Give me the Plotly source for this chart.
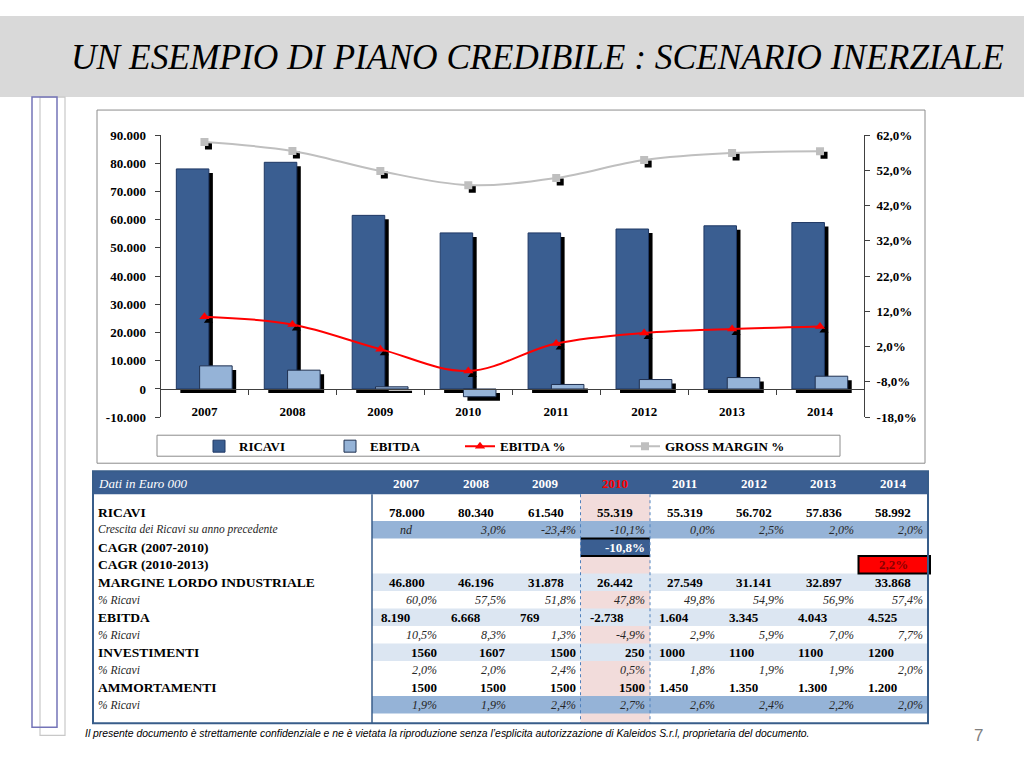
import plotly.graph_objects as go

W, H = 1024, 768

# ---------------- chart data ----------------
years = ["2007", "2008", "2009", "2010", "2011", "2012", "2013", "2014"]
ricavi = [78000, 80340, 61540, 55319, 55319, 56702, 57836, 58992]
ebitda = [8190, 6668, 769, -2738, 1604, 3345, 4043, 4525]
ebitda_pct = [10.5, 8.3, 1.3, -4.9, 2.9, 5.9, 7.0, 7.7]
gross_margin_pct = [60.0, 57.5, 51.8, 47.8, 49.8, 54.9, 56.9, 57.4]

left_tickvals = [-10000, 0, 10000, 20000, 30000, 40000, 50000, 60000, 70000, 80000, 90000]
left_ticktext = ["-10.000", "0", "10.000", "20.000", "30.000", "40.000",
                 "50.000", "60.000", "70.000", "80.000", "90.000"]
right_tickvals = [-18, -8, 2, 12, 22, 32, 42, 52, 62]
right_ticktext = ["-18,0%", "-8,0%", "2,0%", "12,0%", "22,0%", "32,0%", "42,0%", "52,0%", "62,0%"]

# ---------------- table data ----------------
table_corner = "Dati in Euro 000"
row_labels = ["RICAVI", "Crescita dei Ricavi su anno precedente", "CAGR (2007-2010)",
              "CAGR (2010-2013)", "MARGINE LORDO INDUSTRIALE", "% Ricavi", "EBITDA",
              "% Ricavi", "INVESTIMENTI", "% Ricavi", "AMMORTAMENTI", "% Ricavi"]
row_ricavi = ["78.000", "80.340", "61.540", "55.319", "55.319", "56.702", "57.836", "58.992"]
row_crescita = ["nd", "3,0%", "-23,4%", "-10,1%", "0,0%", "2,5%", "2,0%", "2,0%"]
row_cagr_0710 = ["", "", "", "-10,8%", "", "", "", ""]
row_cagr_1013 = ["", "", "", "", "", "", "", "2,2%"]
row_margine = ["46.800", "46.196", "31.878", "26.442", "27.549", "31.141", "32.897", "33.868"]
row_margine_pct = ["60,0%", "57,5%", "51,8%", "47,8%", "49,8%", "54,9%", "56,9%", "57,4%"]
row_ebitda = ["8.190", "6.668", "769", "-2.738", "1.604", "3.345", "4.043", "4.525"]
row_ebitda_pct = ["10,5%", "8,3%", "1,3%", "-4,9%", "2,9%", "5,9%", "7,0%", "7,7%"]
row_invest = ["1560", "1607", "1500", "250", "1000", "1100", "1100", "1200"]
row_invest_pct = ["2,0%", "2,0%", "2,4%", "0,5%", "1,8%", "1,9%", "1,9%", "2,0%"]
row_ammort = ["1500", "1500", "1500", "1500", "1.450", "1.350", "1.300", "1.200"]
row_ammort_pct = ["1,9%", "1,9%", "2,4%", "2,7%", "2,6%", "2,4%", "2,2%", "2,0%"]
table_rows = [row_ricavi, row_crescita, row_cagr_0710, row_cagr_1013, row_margine,
              row_margine_pct, row_ebitda, row_ebitda_pct, row_invest, row_invest_pct,
              row_ammort, row_ammort_pct]

title_text = "UN ESEMPIO DI PIANO CREDIBILE : SCENARIO INERZIALE"
footer_text = ("Il presente documento è strettamente confidenziale e ne è vietata la riproduzione "
               "senza l’esplicita autorizzazione di Kaleidos S.r.l, proprietaria del documento.")
page_number = "7"

# ---------------- styling ----------------
SERIF = "Liberation Serif"
SANS = "Liberation Sans"
DARK_BLUE = "#3A5E91"
MID_BLUE = "#95B3D7"
LIGHT_BLUE = "#DCE6F2"
AXIS_COL = "#404040"

# vertical calibration of the rendered page
Y_OFF, Y_SCALE = 7.0, 0.98


def X(px):
    return px / W


def Y(py):
    return 1 - ((py - Y_OFF) / Y_SCALE) / H


# plot area in (target) pixels
PX0, PX1 = 160.5, 864.0
PY_TOP, PY_BOT = 135.0, 417.0
ymin, ymax = -10000, 90000
y2min, y2max = -18, 62
xdom = [X(PX0), X(PX1)]
ydom = [Y(PY_BOT), Y(PY_TOP)]
zero_pos = ydom[0] + (0 - ymin) / (ymax - ymin) * (ydom[1] - ydom[0])

cat_px = (PX1 - PX0) / len(years)
bar_w = 0.37
ric_off = -0.32
ebi_off = -0.055
sh_dx = 4 / cat_px
sh_dy = 4 * (ymax - ymin) / (PY_BOT - PY_TOP)
sh_dy2 = 4 * (y2max - y2min) / (PY_BOT - PY_TOP)

xs = list(range(len(years)))

fig = go.Figure()

# shadows + bars
fig.add_trace(go.Bar(x=xs, y=ricavi, base=-sh_dy, offset=ric_off + sh_dx, width=bar_w,
                     marker=dict(color="#000000", line=dict(width=0)), showlegend=False,
                     hoverinfo="skip"))
fig.add_trace(go.Bar(x=xs, y=ricavi, offset=ric_off, width=bar_w, name="RICAVI",
                     marker=dict(color=DARK_BLUE, line=dict(color="#1F3864", width=1)),
                     legend="legend"))
fig.add_trace(go.Bar(x=xs, y=ebitda, base=-sh_dy, offset=ebi_off + sh_dx, width=bar_w,
                     marker=dict(color="#000000", line=dict(width=0)), showlegend=False,
                     hoverinfo="skip"))
fig.add_trace(go.Bar(x=xs, y=ebitda, offset=ebi_off, width=bar_w, name="EBITDA",
                     marker=dict(color=MID_BLUE, line=dict(color="#1F3050", width=1)),
                     legend="legend2"))

# line shadows (markers only)
fig.add_trace(go.Scatter(x=[v + sh_dx for v in xs], y=[v - sh_dy2 for v in ebitda_pct],
                         yaxis="y2", mode="markers",
                         marker=dict(symbol="triangle-up", size=8, color="#000000"),
                         showlegend=False, hoverinfo="skip"))
fig.add_trace(go.Scatter(x=[v + sh_dx for v in xs], y=[v - sh_dy2 for v in gross_margin_pct],
                         yaxis="y2", mode="markers",
                         marker=dict(symbol="square", size=7, color="#000000"),
                         showlegend=False, hoverinfo="skip"))
fig.add_trace(go.Scatter(x=xs, y=ebitda_pct, yaxis="y2", mode="lines+markers", name="EBITDA %",
                         line=dict(color="#FF0000", width=2, shape="spline", smoothing=1.0),
                         marker=dict(symbol="triangle-up", size=9, color="#FF0000"),
                         legend="legend3"))
fig.add_trace(go.Scatter(x=xs, y=gross_margin_pct, yaxis="y2", mode="lines+markers",
                         name="GROSS MARGIN %",
                         line=dict(color="#BFBFBF", width=2, shape="spline", smoothing=1.0),
                         marker=dict(symbol="square", size=8, color="#BFBFBF"),
                         legend="legend4"))

tickfont = dict(family=SERIF, size=13, color="#000000", weight="bold")

shapes = []
annotations = []


def rect(x0, y0, x1, y1, fill=None, line=None, lw=0, dash="solid"):
    shapes.append(dict(type="rect", xref="paper", yref="paper",
                       x0=X(x0), x1=X(x1), y0=Y(y1), y1=Y(y0),
                       fillcolor=fill if fill else "rgba(0,0,0,0)",
                       line=dict(color=line if line else "rgba(0,0,0,0)", width=lw, dash=dash),
                       layer="above"))


def hline(x0, x1, y, color, lw, dash="solid"):
    shapes.append(dict(type="line", xref="paper", yref="paper", x0=X(x0), x1=X(x1),
                       y0=Y(y), y1=Y(y), line=dict(color=color, width=lw, dash=dash),
                       layer="above"))


def vline(x, y0, y1, color, lw, dash="solid"):
    shapes.append(dict(type="line", xref="paper", yref="paper", x0=X(x), x1=X(x),
                       y0=Y(y0), y1=Y(y1), line=dict(color=color, width=lw, dash=dash),
                       layer="above"))


def text(x, y, s, size=13, color="#000000", anchor="left", bold=False, italic=False, family=SERIF):
    annotations.append(dict(x=X(x), y=Y(y), xref="paper", yref="paper", text=s,
                            showarrow=False, xanchor=anchor, yanchor="middle",
                            borderpad=0,
                            font=dict(family=family, size=size, color=color,
                                      weight="bold" if bold else "normal",
                                      style="italic" if italic else "normal")))


# title band
rect(0, 16, W, 97, fill="#D9D9D9")
text(537, 57, title_text, size=35.4, italic=True, anchor="center")

# left decoration
rect(40, 97, 65, 735, line="#C8C8C8", lw=1.2)
rect(32, 97, 57, 727, line="#7474B8", lw=1.5)

# chart frame and legend box
rect(97, 110, 925, 463, line="#8C8C8C", lw=1)
rect(157, 435, 840, 456, line="#8C8C8C", lw=1)

# ---------------- table ----------------
T_X0, T_X1 = 93, 928
T_Y0, T_Y1 = 471, 723
HDR_Y1 = 494
LBL_X1 = 372
col_w = (T_X1 - LBL_X1) / len(years)
col_edges = [LBL_X1 + col_w * k for k in range(len(years) + 1)]
col_c = [(col_edges[k] + col_edges[k + 1]) / 2 for k in range(len(years))]
row_h = 17.5
row_c = [512 + row_h * i for i in range(len(row_labels))]
COL10 = 3

rect(T_X0, T_Y0, T_X1, HDR_Y1, fill=DARK_BLUE)
rect(col_edges[COL10], HDR_Y1, col_edges[COL10 + 1], T_Y1, fill="#F2DCDB")
row_fill = {1: MID_BLUE, 4: LIGHT_BLUE, 6: LIGHT_BLUE, 8: LIGHT_BLUE, 11: MID_BLUE}
for i, fc in row_fill.items():
    rect(LBL_X1, row_c[i] - row_h / 2, T_X1, row_c[i] + row_h / 2, fill=fc)
# CAGR 2007-2010 cell
rect(col_edges[COL10], row_c[2] - row_h / 2, col_edges[COL10 + 1], row_c[2] + row_h / 2,
     fill=DARK_BLUE)
hline(col_edges[COL10], col_edges[COL10 + 1], row_c[2] - row_h / 2, "#000000", 2)
hline(col_edges[COL10], col_edges[COL10 + 1], row_c[2] + row_h / 2, "#000000", 2)
# CAGR 2010-2013 cell
rect(col_edges[7], row_c[3] - row_h / 2, T_X1 + 2, row_c[3] + row_h / 2,
     fill="#FF0000", line="#000000", lw=2)
# dotted column borders
vline(col_edges[COL10], HDR_Y1, T_Y1, "#4F81BD", 1, "dot")
vline(col_edges[COL10 + 1], HDR_Y1, T_Y1, "#4F81BD", 1, "dot")
vline(LBL_X1, HDR_Y1, T_Y1, "#385D8A", 1.5)
rect(T_X0, T_Y0, T_X1, T_Y1, line="#385D8A", lw=2)

# header text
text(97, 483, table_corner, size=13, color="#FFFFFF", italic=True)
for k, yr in enumerate(years):
    text(col_c[k], 483, yr, size=13, color="#FF0000" if k == COL10 else "#FFFFFF",
         anchor="center", bold=True)

bold_rows = {0, 2, 3, 4, 6, 8, 10}
row_align = {0: "c", 1: "r", 2: "r", 3: "c", 4: "c", 5: "r", 6: "l", 7: "r",
             8: "rrrrllll", 9: "r", 10: "rrrrllll", 11: "r"}
for i, lab in enumerate(row_labels):
    b = i in bold_rows
    text(97, row_c[i], lab, size=13.5 if b else 11.5, color="#000000" if b else "#262626",
         bold=b, italic=not b)
    al = row_align[i]
    for k, s in enumerate(table_rows[i]):
        if not s:
            continue
        a = al[k] if len(al) > 1 else al
        if s == "nd":
            a = "c"
        if a == "c":
            x, anc = col_c[k], "center"
        elif a == "r":
            x, anc = col_edges[k + 1] - 4, "right"
        else:
            x, anc = col_edges[k] + 8, "left"
        color = "#000000" if b else "#262626"
        if i == 2:
            color = "#FFFFFF"
        if i == 3:
            color = "#8B0000"
        text(x, row_c[i], s, size=13 if b else 12, color=color, anchor=anc,
             bold=b or i == 2, italic=not b)

# footer
text(84, 733, footer_text, size=10.4, italic=True, family=SANS)
text(978, 735, page_number, size=17, color="#808080", anchor="center", family=SANS)

legend_font = dict(family=SERIF, size=13, color="#000000", weight="bold")


def leg(text_start_px):
    return dict(x=X(text_start_px - 40), y=Y(446), xanchor="left", yanchor="middle",
                orientation="h", bgcolor="rgba(0,0,0,0)", borderwidth=0, font=legend_font,
                itemwidth=30)


fig.update_layout(
    width=W, height=H,
    margin=dict(l=0, r=0, t=0, b=0),
    paper_bgcolor="#FFFFFF", plot_bgcolor="#FFFFFF",
    barmode="overlay",
    showlegend=True,
    xaxis=dict(domain=xdom, range=[-0.5, 7.5], anchor="free", position=zero_pos,
               showline=True, linecolor=AXIS_COL, linewidth=1,
               tickmode="array", tickvals=xs, ticktext=years, ticks="",
               tickfont=tickfont, ticklabelstandoff=10, showgrid=False, zeroline=False,
               minor=dict(tickmode="array", tickvals=[v + 0.5 for v in xs[:-1]],
                          ticks="outside", ticklen=5, tickcolor=AXIS_COL, showgrid=False),
               fixedrange=True),
    yaxis=dict(domain=ydom, range=[ymin, ymax], tickmode="array", tickvals=left_tickvals,
               ticktext=left_ticktext, ticks="outside", ticklen=5, tickcolor=AXIS_COL,
               showline=True, linecolor=AXIS_COL, linewidth=1, showgrid=False,
               zeroline=False, tickfont=tickfont, anchor="x", ticklabelstandoff=6,
               fixedrange=True),
    yaxis2=dict(domain=ydom, range=[y2min, y2max], overlaying="y", side="right",
                tickmode="array", tickvals=right_tickvals, ticktext=right_ticktext,
                ticks="outside", ticklen=5, tickcolor=AXIS_COL, showline=True,
                linecolor=AXIS_COL, linewidth=1, showgrid=False, zeroline=False,
                tickfont=tickfont, anchor="x", ticklabelstandoff=4, fixedrange=True),
    legend=leg(239),
    legend2=leg(370),
    legend3=leg(500),
    legend4=leg(665),
    shapes=shapes,
    annotations=annotations,
)

fig.write_html("out.html", config={"displayModeBar": False},
               post_script="document.body.style.margin='0';")
